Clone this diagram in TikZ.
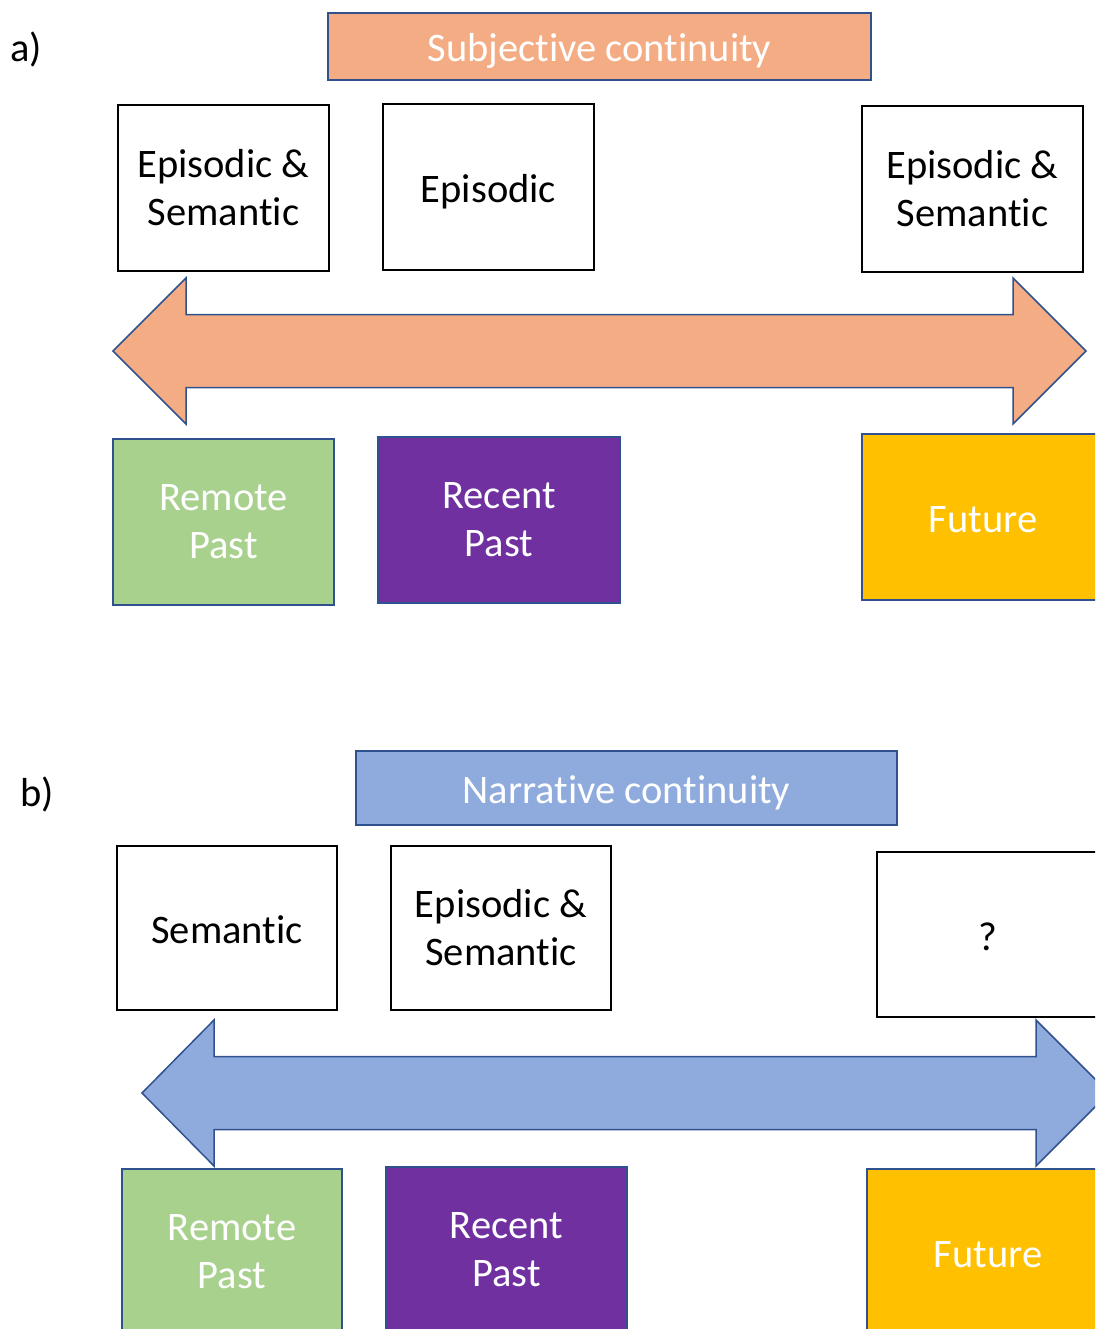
\documentclass[tikz,border=0pt]{standalone}
\usepackage{fontspec}
\setmainfont{Carlito}[Ligatures=NoCommon]
\usepackage{tikz}
\usetikzlibrary{positioning}

\definecolor{edgeblue}{HTML}{2F528F}
\definecolor{salmon}{HTML}{F4AC84}
\definecolor{skyblue}{HTML}{8FAADC}
\definecolor{leafgreen}{HTML}{A9D18E}
\definecolor{plum}{HTML}{7030A0}
\definecolor{amber}{HTML}{FFC000}

\tikzset{
    memory/.style={draw=black, line width=2pt, fill=white, align=center, inner sep=0pt, outer sep=0pt},
    period/.style={draw=edgeblue, line width=1.5pt, text=white, align=center, inner sep=0pt, outer sep=0pt},
    oneline/.style={text height=31pt, text depth=0pt},
    bigtext/.style={font=\fontsize{40.5}{48}\selectfont}
}

\begin{document}
\begin{tikzpicture}[x=1pt, y=-1pt, bigtext]
    \useasboundingbox (0,0) rectangle (1095,1329);
    \clip (0,0) rectangle (1095,1329);

    % panel a: subjective continuity
    \node (labA) at (26,49) {a)};
    \node[period, oneline, fill=salmon, minimum width=543pt, minimum height=67pt] (subj) at (599.5,46.5) {Subjective continuity};
    \node[memory, minimum width=211pt, minimum height=166pt] (memA1) at (223.5,188) {Episodic \&\\Semantic};
    \node[memory, oneline, minimum width=211pt, minimum height=166pt] (memA2) at (488.5,187) {Episodic};
    \node[memory, minimum width=221pt, minimum height=166pt] (memA3) at (972.5,189) {Episodic \&\\Semantic};

    \draw[edgeblue, line width=1.5pt, fill=salmon, line join=miter]
        (113,351) -- (186,278) -- (186,314.5) -- (1013,314.5) -- (1013,278) -- (1086,351)
        -- (1013,424) -- (1013,387.5) -- (186,387.5) -- (186,424) -- cycle;

    \node[period, fill=leafgreen, minimum width=221pt, minimum height=166pt] (remoteA) at (223.5,522) {Remote\\Past};
    \node[period, fill=plum, minimum width=242pt, minimum height=166pt] (recentA) at (499,520) {Recent\\Past};
    \node[period, oneline, fill=amber, minimum width=242pt, minimum height=166pt] (futureA) at (983,517) {Future};

    % panel b: narrative continuity
    \node (labB) at (37,794) {b)};
    \node[period, oneline, fill=skyblue, minimum width=541pt, minimum height=74pt] (narr) at (626.5,788) {Narrative continuity};
    \node[memory, oneline, minimum width=220pt, minimum height=164pt] (memB1) at (227,928) {Semantic};
    \node[memory, minimum width=220pt, minimum height=164pt] (memB2) at (501,928) {Episodic \&\\Semantic};
    \node[memory, oneline, minimum width=222pt, minimum height=165pt] (memB3) at (988,934.5) {?};

    \draw[edgeblue, line width=1.5pt, fill=skyblue, line join=miter]
        (142,1093) -- (214,1020) -- (214,1056.5) -- (1036,1056.5) -- (1036,1020) -- (1109,1093)
        -- (1036,1166) -- (1036,1129.5) -- (214,1129.5) -- (214,1166) -- cycle;

    \node[period, fill=leafgreen, minimum width=220pt, minimum height=166pt] (remoteB) at (232,1252) {Remote\\Past};
    \node[period, fill=plum, minimum width=241pt, minimum height=166pt] (recentB) at (506.5,1250) {Recent\\Past};
    \node[period, oneline, fill=amber, minimum width=242pt, minimum height=166pt] (futureB) at (988,1252) {Future};
\end{tikzpicture}
\end{document}
